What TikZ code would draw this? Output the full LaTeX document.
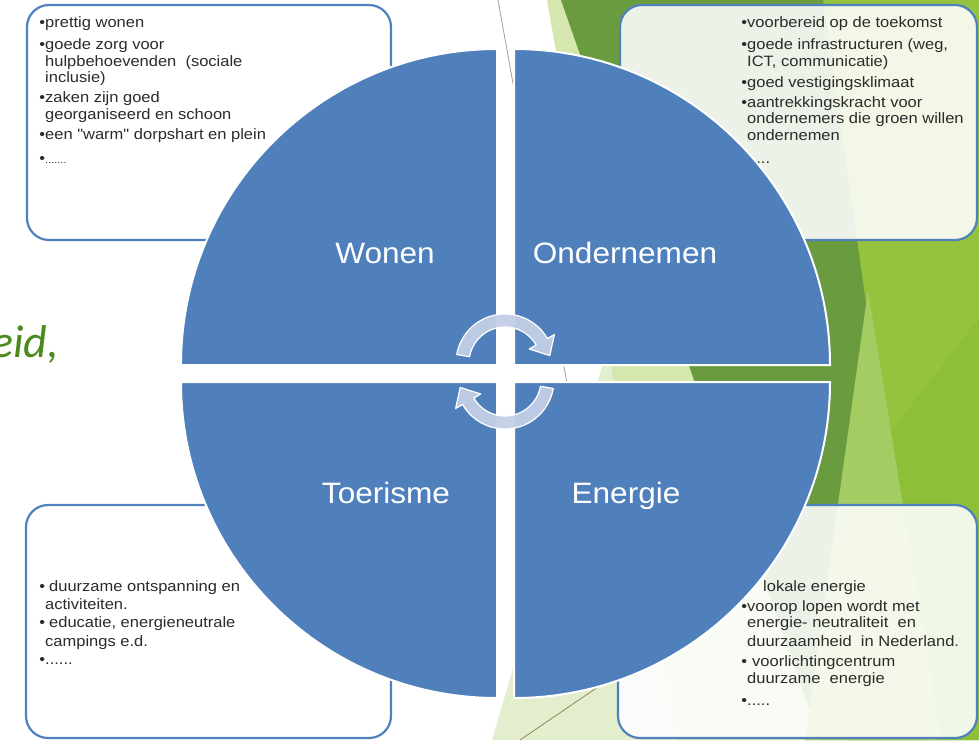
\documentclass[tikz,border=0pt]{standalone}
\usepackage{fontspec}
\setmainfont{Liberation Sans}
\newfontfamily\boxfont{Liberation Sans}[FakeStretch=1.1]
\newfontfamily\labfont{Liberation Sans}[FakeStretch=1.07]
\newfontfamily\greenfont{Carlito}
\definecolor{quadblue}{HTML}{4F80BC}
\definecolor{boxblue}{HTML}{4F81BD}
\definecolor{arrowfill}{HTML}{C3CFE6}
\definecolor{paleA}{HTML}{E3EECF}
\definecolor{paleB}{HTML}{D5E6AE}
\definecolor{brightgreen}{HTML}{95C33D}
\definecolor{shadegreen}{HTML}{8DBF38}
\definecolor{darkgreen}{HTML}{6A9B3E}
\definecolor{lightgreen}{HTML}{A4CC62}
\definecolor{titlegreen}{RGB}{77,138,30}
\definecolor{boxtext}{HTML}{2B2B2B}
\tikzset{
  infobox/.style={draw=boxblue, line width=2.2pt, fill=white, fill opacity=0.88, rounded corners=22pt},
  quad/.style={fill=quadblue, draw=white, line width=2pt},
  qlabel/.style={text=white, anchor=base, inner sep=0pt, font=\labfont\fontsize{29.5}{30}\selectfont},
  boxtxt/.style={text=boxtext, anchor=north west, inner sep=0pt, align=left, font=\boxfont\fontsize{15}{16.7}\selectfont},
  cyclearrow/.style={fill=arrowfill, fill opacity=0.95, draw=white, line width=1.2pt, line join=round},
}
\begin{document}
\begin{tikzpicture}[x=1pt,y=-1pt]
\useasboundingbox (0,0) rectangle (979,740);
\clip (0,0) rectangle (979,740);
\fill[white] (0,0) rectangle (979,740);

% background facets
\fill[paleA] (492,740) -- (710,0) -- (979,0) -- (979,740) -- cycle;
\fill[paleB] (547,0) -- (979,0) -- (979,740) -- (677,740) -- cycle;
\fill[brightgreen] (823,0) -- (979,0) -- (979,740) -- (850,740) -- cycle;
\begin{scope}
  \clip (823,0) -- (979,0) -- (979,740) -- (850,740) -- cycle;
  \fill[shadegreen] (979,318) -- (652,740) -- (979,740) -- cycle;
\end{scope}
\fill[darkgreen] (561,0) -- (823,0) -- (928,740) -- (820,740) -- cycle;
\fill[lightgreen] (868,290) -- (941,740) -- (805,740) -- cycle;

% thin facet lines
\coordinate (la) at (498,0);
\coordinate (lb) at (570,400);
\coordinate (lc) at (520,740);
\coordinate (ld) at (620,672);
\draw[gray!75, line width=0.8pt] (la) -- (lb);
\draw[olive!45!gray, line width=0.8pt] (lc) -- (ld);

% partial title text on the left
\node[anchor=base west, inner sep=0pt, text=titlegreen, font=\greenfont\itshape\fontsize{46}{46}\selectfont] (frag) at (-9,357) {eid,};

% text boxes
\draw[infobox] (27,5) rectangle (391,240);
\draw[infobox] (620,5) rectangle (977,240);
\draw[infobox] (26,505) rectangle (391,738);
\draw[infobox] (618,505) rectangle (977,738);

\node[boxtxt] (tltext) at (45,15.7) {\rule{0pt}{12pt}\llap{•}prettig wonen\\[4.9pt]
\llap{•}goede zorg voor\\
hulpbehoevenden\ \ (sociale\\
inclusie)\\[3.3pt]
\llap{•}zaken zijn goed\\
georganiseerd en schoon\\[3.3pt]
\llap{•}een "warm" dorpshart en plein\\[7pt]
\llap{•}{\fontsize{10}{10}\selectfont .......}};

\node[boxtxt] (trtext) at (747,15.7) {\rule{0pt}{12pt}\llap{•}voorbereid op de toekomst\\[4.9pt]
\llap{•}goede infrastructuren (weg,\\
ICT, communicatie)\\[4.3pt]
\llap{•}goed vestigingsklimaat\\[3.3pt]
\llap{•}aantrekkingskracht voor\\
ondernemers die groen willen\\
ondernemen\\[6pt]
\llap{•}.....};

\node[boxtxt, font=\boxfont\fontsize{15}{18.3}\selectfont] (bltext) at (45,579) {\rule{0pt}{12pt}\llap{•}\hspace*{4pt}duurzame ontspanning en\\
activiteiten.\\
\llap{•}\hspace*{4pt}educatie, energieneutrale\\
campings e.d.\\
\llap{•}......};

\node[boxtxt, font=\boxfont\fontsize{15}{16.5}\selectfont] (brtext) at (747,579) {\rule{0pt}{12pt}\hspace*{16pt}lokale energie\\[3.5pt]
\llap{•}voorop lopen wordt met\\
energie- neutraliteit\ \ en\\[2.5pt]
duurzaamheid\ \ in Nederland.\\[3.5pt]
\llap{•}\hspace*{5pt}voorlichtingcentrum\\
duurzame\ \ energie\\[5.5pt]
\llap{•}.....};

% quadrants
\draw[quad] (497,365) -- (181,365) arc[start angle=180, end angle=270, radius=316] -- cycle;
\draw[quad] (514,365) -- (514,49) arc[start angle=270, end angle=360, radius=316] -- cycle;
\draw[quad] (497,382) -- (181,382) arc[start angle=180, end angle=90, radius=316] -- cycle;
\draw[quad] (514,382) -- (830,382) arc[start angle=0, end angle=90, radius=316] -- cycle;

\node[qlabel] (wonen) at (385,263.5) {Wonen};
\node[qlabel] (ondernemen) at (625,263.5) {Ondernemen};
\node[qlabel] (toerisme) at (386,503.5) {Toerisme};
\node[qlabel] (energie) at (626,503.5) {Energie};

% cycle arrows
\begin{scope}[shift={(505,363)}]
  \draw[cyclearrow] (190:49) arc[start angle=190, end angle=330, radius=49] -- (330:57) -- (350.6:45.4) -- (330:28) -- (330:36) arc[start angle=330, end angle=190, radius=36] -- cycle;
\end{scope}
\begin{scope}[shift={(505,380)}, rotate=180]
  \draw[cyclearrow] (190:49) arc[start angle=190, end angle=330, radius=49] -- (330:57) -- (350.6:45.4) -- (330:28) -- (330:36) arc[start angle=330, end angle=190, radius=36] -- cycle;
\end{scope}
\end{tikzpicture}
\end{document}
